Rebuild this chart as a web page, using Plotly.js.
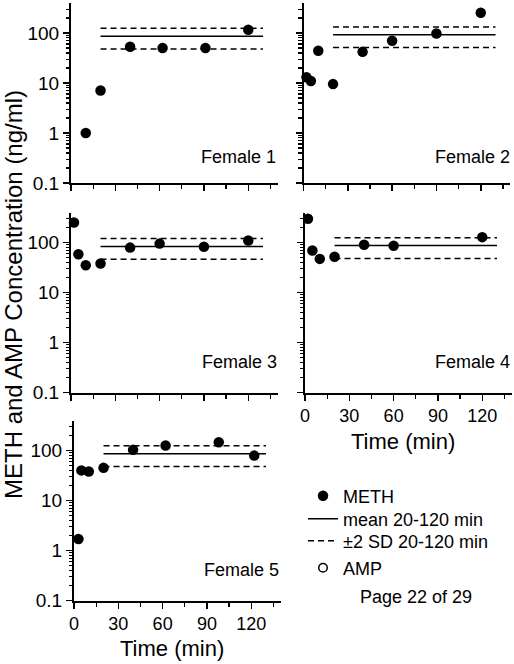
<!DOCTYPE html>
<html><head><meta charset="utf-8">
<script src="https://cdn.plot.ly/plotly-3.0.1.min.js"></script>
<style>html,body{margin:0;padding:0;background:#fff}</style>
</head><body>
<div id="chart" style="width:514px;height:664px"></div>
<script>
// ---- data ----
const panelNames = ['Female 1', 'Female 2', 'Female 3', 'Female 4', 'Female 5'];
const f1Time = [10, 20, 40, 62, 91, 120];
const f1Meth = [1.0, 7.1, 53, 50, 50, 116];
const f2Time = [2, 5, 10, 20, 40, 60, 90, 120];
const f2Meth = [13, 11, 44, 9.5, 42, 70, 98, 255];
const f3Time = [2, 5, 10, 20, 40, 60, 90, 120];
const f3Meth = [251, 58, 35, 38, 79, 95, 82, 110];
const f4Time = [2, 5, 10, 20, 40, 60, 120];
const f4Meth = [298, 69, 47, 52, 90, 86, 128];
const f5Time = [3, 5, 10, 20, 40, 62, 98, 122];
const f5Meth = [1.7, 40, 38, 45, 103, 126, 146, 79];
const meanVals = [86, 92, 83, 87, 86];
const sdUpper = [124, 132, 120, 124, 124];
const sdLower = [48, 51, 46.5, 48, 48];
const lineSpan = [20, 130];
const yTickVals = [0.1, 1, 10, 100];
const yTickText = ['0.1', '1', '10', '100'];
const xTickVals = [0, 30, 60, 90, 120];
const xTickText = ['0', '30', '60', '90', '120'];

const times = [f1Time, f2Time, f3Time, f4Time, f5Time];
const meth = [f1Meth, f2Meth, f3Meth, f4Meth, f5Meth];

// ---- layout geometry (pixels) ----
const W = 514, H = 664;
const FONT = 'Liberation Sans, Arial, Helvetica, sans-serif';
const panels = [
  {x0: 71,    y0: 3,     showY: true,  showX: false},
  {x0: 303.5, y0: 3,     showY: false, showX: false},
  {x0: 71,    y0: 212.5, showY: true,  showX: false},
  {x0: 305,   y0: 212.5, showY: false, showX: true},
  {x0: 74,    y0: 420.5, showY: true,  showX: true}
];
const PW = 206.8, PH = 180;
const labelPos = [[199, 157], [433, 157], [200, 362], [433, 362], [202, 570]];

const minorY = [];
for (let e = -1; e <= 2; e++) for (let k = 2; k <= 9; k++) minorY.push(k * Math.pow(10, e));

const layout = {
  width: W, height: H,
  margin: {l: 0, r: 0, t: 0, b: 0},
  paper_bgcolor: '#fff', plot_bgcolor: 'rgba(0,0,0,0)',
  font: {family: FONT, color: '#000', size: 18},
  showlegend: true,
  annotations: []
};

const traces = [];
panels.forEach((p, i) => {
  const n = i === 0 ? '' : String(i + 1);
  layout['xaxis' + n] = {
    domain: [p.x0 / W, (p.x0 + PW) / W], anchor: 'y' + n,
    range: [0, 140], tickmode: 'array', tickvals: xTickVals, ticktext: xTickText,
    showticklabels: p.showX, ticks: 'outside', ticklen: 6, tickwidth: 1.5, tickcolor: '#000',
    showline: true, linewidth: 2, linecolor: '#000', showgrid: false, zeroline: false,
    tickfont: {size: 18, color: '#000', family: FONT},
    minor: {tickmode: 'linear', tick0: 0, dtick: 15, ticks: 'outside', ticklen: 4, tickwidth: 1.3, tickcolor: '#000', showgrid: false},
    fixedrange: true
  };
  layout['yaxis' + n] = {
    domain: [1 - (p.y0 + PH) / H, 1 - p.y0 / H], anchor: 'x' + n,
    type: 'log', range: [-1, 2.6], tickmode: 'array', tickvals: yTickVals, ticktext: yTickText,
    showticklabels: p.showY, ticks: 'outside', ticklen: 6, tickwidth: 1.5, tickcolor: '#000',
    showline: true, linewidth: 2, linecolor: '#000', showgrid: false, zeroline: false,
    tickfont: {size: 19, color: '#000', family: FONT},
    minor: {tickmode: 'array', tickvals: minorY, ticks: 'outside', ticklen: 3.5, tickwidth: 1.2, tickcolor: '#000', showgrid: false},
    fixedrange: true
  };
  const xa = 'x' + n, ya = 'y' + n;
  traces.push({
    x: lineSpan, y: [meanVals[i], meanVals[i]], xaxis: xa, yaxis: ya, mode: 'lines',
    line: {color: '#000', width: 1.5}, name: 'mean 20-120 min',
    showlegend: i === 0, legend: 'legend2', hoverinfo: 'skip'
  });
  traces.push({
    x: lineSpan, y: [sdUpper[i], sdUpper[i]], xaxis: xa, yaxis: ya, mode: 'lines',
    line: {color: '#000', width: 1.5, dash: '6px,4px'}, name: '±2 SD 20-120 min',
    showlegend: i === 0, legend: 'legend3', hoverinfo: 'skip'
  });
  traces.push({
    x: lineSpan, y: [sdLower[i], sdLower[i]], xaxis: xa, yaxis: ya, mode: 'lines',
    line: {color: '#000', width: 1.5, dash: '6px,4px'}, name: '±2 SD 20-120 min',
    showlegend: false, hoverinfo: 'skip'
  });
  traces.push({
    x: times[i], y: meth[i], xaxis: xa, yaxis: ya, mode: 'markers',
    marker: {color: '#000', size: 10.5, symbol: 'circle', line: {width: 0}},
    name: 'METH', showlegend: i === 0, legend: 'legend', cliponaxis: false
  });
  layout.annotations.push({
    text: panelNames[i], xref: 'paper', yref: 'paper',
    x: labelPos[i][0] / W, y: 1 - labelPos[i][1] / H, xanchor: 'left', yanchor: 'middle',
    showarrow: false, font: {size: 18, color: '#000', family: FONT}
  });
});

// AMP legend entry (no AMP points are visible in the panels)
traces.push({
  x: [null], y: [null], xaxis: 'x', yaxis: 'y', mode: 'markers',
  marker: {color: '#000', size: 8.5, symbol: 'circle-open', line: {color: '#000', width: 1.5}},
  name: 'AMP', showlegend: true, legend: 'legend4'
});

const legBase = {xanchor: 'left', yanchor: 'middle', bgcolor: 'rgba(0,0,0,0)', borderwidth: 0,
  font: {size: 18, color: '#000', family: FONT}, itemwidth: 30, tracegroupgap: 0};
layout.legend  = Object.assign({}, legBase, {x: 303 / W, y: 1 - 496 / H});
layout.legend2 = Object.assign({}, legBase, {x: 303 / W, y: 1 - 519 / H});
layout.legend3 = Object.assign({}, legBase, {x: 303 / W, y: 1 - 541 / H});
layout.legend4 = Object.assign({}, legBase, {x: 303 / W, y: 1 - 568 / H});

// axis titles and page note
layout.annotations.push({
  text: 'METH and AMP Concentration (ng/ml)', xref: 'paper', yref: 'paper',
  x: 13 / W, y: 1 - 295 / H, textangle: -90, xanchor: 'center', yanchor: 'middle',
  showarrow: false, font: {size: 24, color: '#000', family: FONT}
});
layout.annotations.push({
  text: 'Time (min)', xref: 'paper', yref: 'paper',
  x: (305 + 98) / W, y: 1 - 441 / H, xanchor: 'center', yanchor: 'middle',
  showarrow: false, font: {size: 22, color: '#000', family: FONT}
});
layout.annotations.push({
  text: 'Time (min)', xref: 'paper', yref: 'paper',
  x: (74 + 98) / W, y: 1 - 648 / H, xanchor: 'center', yanchor: 'middle',
  showarrow: false, font: {size: 22, color: '#000', family: FONT}
});
layout.annotations.push({
  text: 'Page 22 of 29', xref: 'paper', yref: 'paper',
  x: 416 / W, y: 1 - 597 / H, xanchor: 'center', yanchor: 'middle',
  showarrow: false, font: {size: 18, color: '#000', family: FONT}
});

Plotly.newPlot('chart', traces, layout, {displayModeBar: false, staticPlot: true});
</script>
</body></html>
